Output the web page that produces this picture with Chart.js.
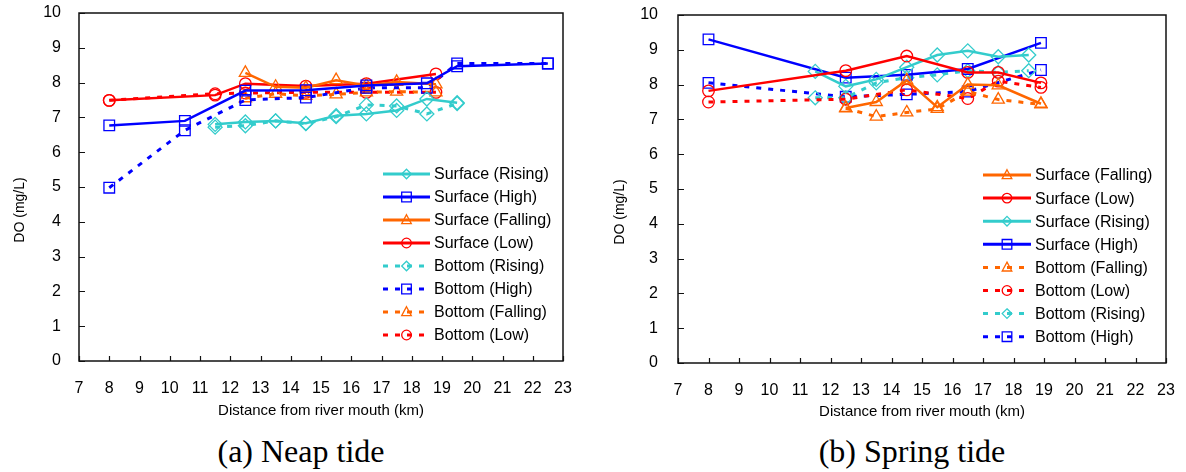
<!DOCTYPE html>
<html><head><meta charset="utf-8">
<script src="https://cdn.jsdelivr.net/npm/chart.js@4/dist/chart.umd.min.js"></script>
<style>
html,body{margin:0;padding:0;background:#fff}
body{width:1186px;height:472px;overflow:hidden;position:relative}
.cv{position:absolute;top:0;width:593px;height:430px}
.cap{position:absolute;top:432px;font-family:'Liberation Serif','Times New Roman',serif;font-size:32px;line-height:38px;color:#000;transform:translateX(-50%);white-space:nowrap}
</style></head><body>
<div class="cv" style="left:0"><canvas id="c1" width="593" height="430"></canvas></div>
<div class="cv" style="left:593px"><canvas id="c2" width="593" height="430"></canvas></div>
<div class="cap" style="left:301px">(a) Neap tide</div>
<div class="cap" style="left:912px">(b) Spring tide</div>
<script>
// ---- Data: (a) Neap tide ----
const neapRisingKm = [11.5, 12.5, 13.5, 14.5, 15.5, 16.5, 17.5, 18.5, 19.5];
const neapSurfRising = [6.80, 6.87, 6.90, 6.83, 7.05, 7.10, 7.20, 7.53, 7.42];
const neapBotRising = [6.72, 6.76, 6.90, 6.82, 7.02, 7.36, 7.33, 7.10, 7.40];
const neapHighKm = [8, 10.5, 12.5, 14.5, 16.5, 18.5, 19.5, 22.5];
const neapSurfHigh = [6.77, 6.90, 7.77, 7.78, 7.92, 7.98, 8.47, 8.55];
const neapBotHigh = [4.98, 6.63, 7.50, 7.57, 7.85, 7.85, 8.55, 8.55];
const neapFallingKm = [12.5, 13.5, 14.5, 15.5, 16.5, 17.5, 18.8];
const neapSurfFalling = [8.28, 7.88, 7.85, 8.07, 7.92, 8.02, 7.95];
const neapBotFalling = [7.55, 7.68, 7.62, 7.66, 7.72, 7.74, 7.72];
const neapLowKm = [8, 11.5, 12.5, 14.5, 16.5, 18.8];
const neapSurfLow = [7.49, 7.64, 7.97, 7.90, 7.97, 8.25];
const neapBotLow = [7.49, 7.68, 7.70, 7.72, 7.72, 7.72];

// ---- Data: (b) Spring tide ----
const springFallingKm = [12.5, 13.5, 14.5, 15.5, 16.5, 17.5, 18.9];
const springSurfFalling = [7.33, 7.50, 8.12, 7.35, 8.00, 7.98, 7.45];
const springBotFalling = [7.32, 7.08, 7.20, 7.30, 7.80, 7.57, 7.43];
const springLowKm = [8, 12.5, 14.5, 16.5, 17.5, 18.9];
const springSurfLow = [7.82, 8.40, 8.82, 8.35, 8.35, 8.05];
const springBotLow = [7.50, 7.58, 7.85, 7.60, 8.10, 7.92];
const springRisingKm = [11.5, 12.5, 13.5, 14.5, 15.5, 16.5, 17.5, 18.5];
const springSurfRising = [8.38, 7.95, 8.15, 8.50, 8.85, 8.97, 8.80, 8.85];
const springBotRising = [7.62, 7.62, 8.05, 8.20, 8.28, 8.40, 8.35, 8.40];
const springHighKm = [8, 12.5, 14.5, 16.5, 18.9];
const springSurfHigh = [9.30, 8.20, 8.28, 8.45, 9.20];
const springBotHigh = [8.05, 7.65, 7.72, 7.80, 8.42];

// ---- Axis ticks / titles ----
const xTickMin = 7, xTickMax = 23, xTickStep = 1;
const yTickMin = 0, yTickMax = 10, yTickStep = 1;
const xTitle = 'Distance from river mouth (km)';
const yTitle = 'DO (mg/L)';

const COL = {rising:'#33CCCC', high:'#0000FF', falling:'#FF6600', low:'#FF0000'};
const STY = {rising:'rectRot', high:'rect', falling:'triangle', low:'circle'};
const RAD = {rising:7, high:7.5, falling:7, low:5.8};

function ds(label, kind, km, vals, dashed){
  return {
    label, kind,
    data: km.map((x,i)=>({x, y: vals[i]})),
    borderColor: COL[kind], backgroundColor: 'rgba(0,0,0,0)',
    pointBackgroundColor: 'rgba(0,0,0,0)', pointBorderColor: COL[kind],
    pointStyle: STY[kind], pointRadius: RAD[kind], pointBorderWidth: 1.3,
    pointHoverRadius: RAD[kind],
    borderWidth: dashed ? 3 : 2.5, borderDash: dashed ? [5,7] : [],
    tension: 0, fill: false
  };
}

function drawMarker(ctx, style, x, y, r){
  ctx.beginPath();
  if (style==='circle'){ ctx.arc(x,y,r,0,Math.PI*2); }
  else if (style==='rect'){ ctx.rect(x-r,y-r,2*r,2*r); }
  else if (style==='rectRot'){ ctx.moveTo(x,y-r); ctx.lineTo(x+r,y); ctx.lineTo(x,y+r); ctx.lineTo(x-r,y); ctx.closePath(); }
  else if (style==='triangle'){ ctx.moveTo(x,y-r*1.1); ctx.lineTo(x+r,y+r*0.75); ctx.lineTo(x-r,y+r*0.75); ctx.closePath(); }
  ctx.stroke();
}

const frame = {
  id:'frame',
  beforeDatasetsDraw(chart, args, o){
    const {ctx, chartArea:a, scales} = chart;
    ctx.save();
    ctx.strokeStyle = '#111'; ctx.lineWidth = 1.5;
    ctx.strokeRect(a.left, a.top, a.right-a.left, a.bottom-a.top);
    ctx.lineWidth = 1.2;
    ctx.beginPath();
    scales.x.ticks.forEach(t=>{ const p = Math.round(scales.x.getPixelForValue(t.value))+0.5; ctx.moveTo(p,a.bottom); ctx.lineTo(p,a.bottom-5); });
    scales.y.ticks.forEach(t=>{ const p = Math.round(scales.y.getPixelForValue(t.value))+0.5; ctx.moveTo(a.left,p); ctx.lineTo(a.left+6,p); });
    ctx.stroke();
    // rotated y-axis title
    ctx.translate(o.ytX, o.ytY);
    ctx.rotate(-Math.PI/2);
    ctx.font = '14px "Liberation Sans", Arial, sans-serif';
    ctx.fillStyle = '#000';
    ctx.textAlign = 'center';
    ctx.textBaseline = 'middle';
    ctx.fillText(yTitle, 0, 0);
    ctx.restore();
  }
};

const boxLegend = {
  id:'boxLegend',
  afterDraw(chart, args, o){
    const ctx = chart.ctx;
    ctx.save();
    ctx.font = '16px "Liberation Sans", Arial, sans-serif';
    ctx.textBaseline = 'middle';
    chart.data.datasets.forEach((d,i)=>{
      const y = o.y0 + i*o.dy;
      ctx.strokeStyle = d.borderColor;
      ctx.lineWidth = 3;
      ctx.setLineDash(d.borderDash.length ? [5,7] : []);
      ctx.beginPath(); ctx.moveTo(o.x0, y); ctx.lineTo(o.x0+o.w, y); ctx.stroke();
      ctx.setLineDash([]);
      ctx.lineWidth = 1.3;
      drawMarker(ctx, d.pointStyle, o.x0+o.w/2, y, 4.8);
      ctx.fillStyle = '#000';
      ctx.fillText(d.label, o.x0+o.w+4, y+1);
    });
    ctx.restore();
  }
};

Chart.defaults.font.family = '"Liberation Sans", Arial, sans-serif';
Chart.defaults.color = '#000';

function makeChart(id, datasets, g){
  return new Chart(document.getElementById(id), {
    type:'line',
    data:{datasets},
    plugins:[frame, boxLegend],
    options:{
      responsive:false, animation:false, devicePixelRatio:1,
      layout:{padding:{top:g.top, right:g.right, left:0, bottom:0}},
      plugins:{legend:{display:false}, tooltip:{enabled:false}, boxLegend:g.legend, frame:{ytX:g.ytX, ytY:g.ytY}},
      scales:{
        x:{type:'linear', min:xTickMin, max:xTickMax,
           ticks:{stepSize:xTickStep, padding:g.xPad, font:{size:16}, color:'#000', maxRotation:0, autoSkip:false},
           grid:{display:false, drawTicks:false}, border:{display:false},
           title:{display:true, text:xTitle, font:{size:15}, color:'#000', padding:{top:0,bottom:g.xtPad}},
           afterFit:s=>{ s.height = g.xH; s.paddingLeft = 0; s.paddingRight = 0; }},
        y:{type:'linear', min:yTickMin, max:yTickMax,
           ticks:{stepSize:yTickStep, padding:g.yPad, font:{size:16}, color:'#000'},
           grid:{display:false, drawTicks:false}, border:{display:false},
           title:{display:false},
           afterFit:s=>{ s.width = g.yW; s.paddingTop = 0; s.paddingBottom = 0; }}
      }
    }
  });
}

makeChart('c1', [
  ds('Surface (Rising)','rising',neapRisingKm,neapSurfRising,false),
  ds('Surface (High)','high',neapHighKm,neapSurfHigh,false),
  ds('Surface (Falling)','falling',neapFallingKm,neapSurfFalling,false),
  ds('Surface (Low)','low',neapLowKm,neapSurfLow,false),
  ds('Bottom (Rising)','rising',neapRisingKm,neapBotRising,true),
  ds('Bottom (High)','high',neapHighKm,neapBotHigh,true),
  ds('Bottom (Falling)','falling',neapFallingKm,neapBotFalling,true),
  ds('Bottom (Low)','low',neapLowKm,neapBotLow,true)
], {top:13, right:30, xH:69, yW:79, xPad:18, yPad:18, xtPad:10, ytX:20, ytY:210,
    legend:{x0:383, y0:174, dy:23.0, w:47}});

makeChart('c2', [
  ds('Surface (Falling)','falling',springFallingKm,springSurfFalling,false),
  ds('Surface (Low)','low',springLowKm,springSurfLow,false),
  ds('Surface (Rising)','rising',springRisingKm,springSurfRising,false),
  ds('Surface (High)','high',springHighKm,springSurfHigh,false),
  ds('Bottom (Falling)','falling',springFallingKm,springBotFalling,true),
  ds('Bottom (Low)','low',springLowKm,springBotLow,true),
  ds('Bottom (Rising)','rising',springRisingKm,springBotRising,true),
  ds('Bottom (High)','high',springHighKm,springBotHigh,true)
], {top:15, right:20, xH:67, yW:85, xPad:18, yPad:20, xtPad:9, ytX:27, ytY:212,
    legend:{x0:390, y0:175, dy:23.1, w:48}});
</script>
</body></html>
